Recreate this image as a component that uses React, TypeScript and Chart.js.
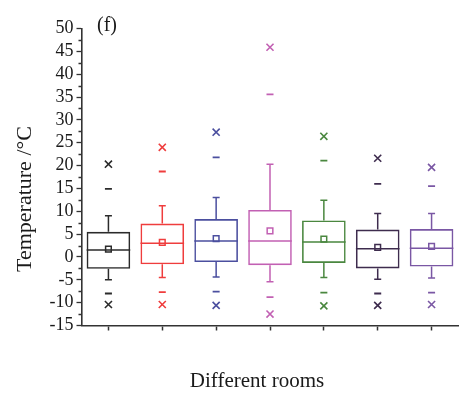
import React, { useEffect, useRef } from 'react';
import { Chart, registerables } from 'chart.js';

Chart.register(...registerables);

// Temperature statistics per room (°C)
const rooms = ['Room 1', 'Room 2', 'Room 3', 'Room 4', 'Room 5', 'Room 6', 'Room 7'];
const maxValues = [20.3, 24.0, 27.3, 45.9, 26.4, 21.6, 19.6];
const p99Values = [14.9, 18.7, 21.8, 35.6, 21.1, 16.0, 15.5];
const whiskerHigh = [9.0, 11.2, 13.0, 20.3, 12.4, 9.5, 9.5];
const q3Values = [5.5, 7.3, 8.3, 10.3, 8.0, 6.0, 6.1];
const medianValues = [1.5, 3.0, 3.5, 3.5, 3.3, 1.8, 1.9];
const meanValues = [1.7, 3.2, 4.0, 5.7, 3.9, 2.1, 2.3];
const q1Values = [-2.6, -1.6, -1.1, -1.8, -1.3, -2.5, -2.1];
const whiskerLow = [-5.0, -4.5, -4.4, -5.4, -4.5, -4.9, -4.6];
const p1Values = [-8.0, -7.7, -7.6, -8.8, -7.8, -8.0, -7.8];
const minValues = [-10.4, -10.4, -10.6, -12.5, -10.7, -10.6, -10.4];

const roomColors = ['#2b2b2b', '#ef3d3d', '#4b4f9f', '#c260b3', '#4a873f', '#3e2c4e', '#7a57a4'];

const Y_MIN = -15;
const Y_MAX = 50;
const Y_STEP = 5;

const AXIS_COLOR = '#333333';
const SERIF = "'Liberation Serif', 'Times New Roman', serif";

// Whiskers, caps and median lines drawn on top of each box
const boxDetails = {
  id: 'boxDetails',
  afterDatasetDraw(chart: any, args: any) {
    if (args.index !== 0) return;
    const { ctx } = chart;
    const y = chart.scales.y;
    const meta = chart.getDatasetMeta(0);
    ctx.save();
    ctx.lineWidth = 1.5;
    meta.data.forEach((bar: any, i: number) => {
      const { x, width } = bar.getProps(['x', 'width'], true);
      const c = roomColors[i];
      ctx.strokeStyle = c;
      const cap = 3.5;
      const yQ3 = y.getPixelForValue(q3Values[i]);
      const yQ1 = y.getPixelForValue(q1Values[i]);
      const yHi = y.getPixelForValue(whiskerHigh[i]);
      const yLo = y.getPixelForValue(whiskerLow[i]);
      const yMed = y.getPixelForValue(medianValues[i]);
      ctx.beginPath();
      ctx.moveTo(x, yQ3);
      ctx.lineTo(x, yHi);
      ctx.moveTo(x - cap, yHi);
      ctx.lineTo(x + cap, yHi);
      ctx.moveTo(x, yQ1);
      ctx.lineTo(x, yLo);
      ctx.moveTo(x - cap, yLo);
      ctx.lineTo(x + cap, yLo);
      ctx.moveTo(x - width / 2, yMed);
      ctx.lineTo(x + width / 2, yMed);
      ctx.stroke();
    });
    ctx.restore();
  },
};

// Minor ticks between the labelled values, plus titles and panel tag
const axisExtras = {
  id: 'axisExtras',
  afterDraw(chart: any) {
    const { ctx, chartArea } = chart;
    const y = chart.scales.y;
    ctx.save();
    ctx.strokeStyle = AXIS_COLOR;
    ctx.lineWidth = 1.3;
    ctx.beginPath();
    for (let v = Y_MIN + Y_STEP / 2; v < Y_MAX; v += Y_STEP) {
      const py = Math.round(y.getPixelForValue(v)) + 0.5;
      ctx.moveTo(chartArea.left - 3, py);
      ctx.lineTo(chartArea.left, py);
    }
    ctx.stroke();

    ctx.fillStyle = '#1a1a1a';
    ctx.font = `20px ${SERIF}`;
    ctx.textAlign = 'left';
    ctx.textBaseline = 'alphabetic';
    ctx.fillText('(f)', 97, 31);

    ctx.font = `21px ${SERIF}`;
    ctx.textAlign = 'center';
    ctx.fillText('Different rooms', 257, 387);

    ctx.translate(31, 199);
    ctx.rotate(-Math.PI / 2);
    ctx.font = `22px ${SERIF}`;
    ctx.fillText('Temperature /°C', 0, 0);
    ctx.restore();
  },
};

export default function App() {
  const canvasRef = useRef<HTMLCanvasElement | null>(null);

  useEffect(() => {
    const canvas = canvasRef.current;
    if (!canvas) return;
    const chart = new Chart(canvas, {
      type: 'bar',
      data: {
        labels: rooms,
        datasets: [
          {
            type: 'bar',
            label: 'Interquartile range',
            data: q1Values.map((v, i) => [v, q3Values[i]]) as any,
            backgroundColor: 'rgba(0,0,0,0)',
            borderColor: roomColors,
            borderWidth: 1.6,
            borderSkipped: false,
            barPercentage: 0.81,
            categoryPercentage: 1,
            order: 10,
          },
          {
            type: 'line',
            label: 'Mean',
            data: meanValues,
            showLine: false,
            pointStyle: 'rect',
            pointRadius: 4,
            pointBorderWidth: 1.5,
            pointBorderColor: roomColors,
            pointBackgroundColor: 'rgba(255,255,255,0)',
            order: 1,
          },
          {
            type: 'line',
            label: '99%',
            data: p99Values,
            showLine: false,
            pointStyle: 'line',
            pointRadius: 3.5,
            pointBorderWidth: 1.8,
            pointBorderColor: roomColors,
            order: 1,
          },
          {
            type: 'line',
            label: '1%',
            data: p1Values,
            showLine: false,
            pointStyle: 'line',
            pointRadius: 3.5,
            pointBorderWidth: 1.8,
            pointBorderColor: roomColors,
            order: 1,
          },
          {
            type: 'line',
            label: 'Max',
            data: maxValues,
            showLine: false,
            pointStyle: 'crossRot',
            pointRadius: 5,
            pointBorderWidth: 1.6,
            pointBorderColor: roomColors,
            order: 1,
          },
          {
            type: 'line',
            label: 'Min',
            data: minValues,
            showLine: false,
            pointStyle: 'crossRot',
            pointRadius: 5,
            pointBorderWidth: 1.6,
            pointBorderColor: roomColors,
            order: 1,
          },
        ] as any,
      },
      options: {
        animation: false,
        responsive: true,
        maintainAspectRatio: false,
        layout: { padding: { top: 28.5, right: 14.5, bottom: 0, left: 0 } },
        plugins: {
          legend: { display: false },
          tooltip: { enabled: false },
        },
        scales: {
          x: {
            type: 'category',
            offset: true,
            grid: {
              display: true,
              drawOnChartArea: false,
              drawTicks: true,
              tickLength: 5,
              offset: false,
              tickColor: AXIS_COLOR,
              tickWidth: 1.5,
            },
            border: { display: true, color: AXIS_COLOR, width: 1.6 },
            ticks: { display: false },
            afterFit(scale: any) {
              scale.height = 73.5;
            },
          },
          y: {
            type: 'linear',
            min: Y_MIN,
            max: Y_MAX,
            grid: {
              display: true,
              drawOnChartArea: false,
              drawTicks: true,
              tickLength: 5,
              tickColor: AXIS_COLOR,
              tickWidth: 1.3,
            },
            border: { display: true, color: AXIS_COLOR, width: 1.6 },
            ticks: {
              stepSize: Y_STEP,
              autoSkip: false,
              padding: 3,
              color: '#1a1a1a',
              font: { family: SERIF, size: 18 },
            },
            afterFit(scale: any) {
              scale.width = 81.5;
            },
          },
        },
      },
      plugins: [boxDetails, axisExtras],
    });
    return () => chart.destroy();
  }, []);

  return (
    <div style={{ position: 'fixed', left: 0, top: 0, width: 473, height: 399, background: '#ffffff' }}>
      <canvas ref={canvasRef} style={{ display: 'block', width: 473, height: 399 }} />
    </div>
  );
}
